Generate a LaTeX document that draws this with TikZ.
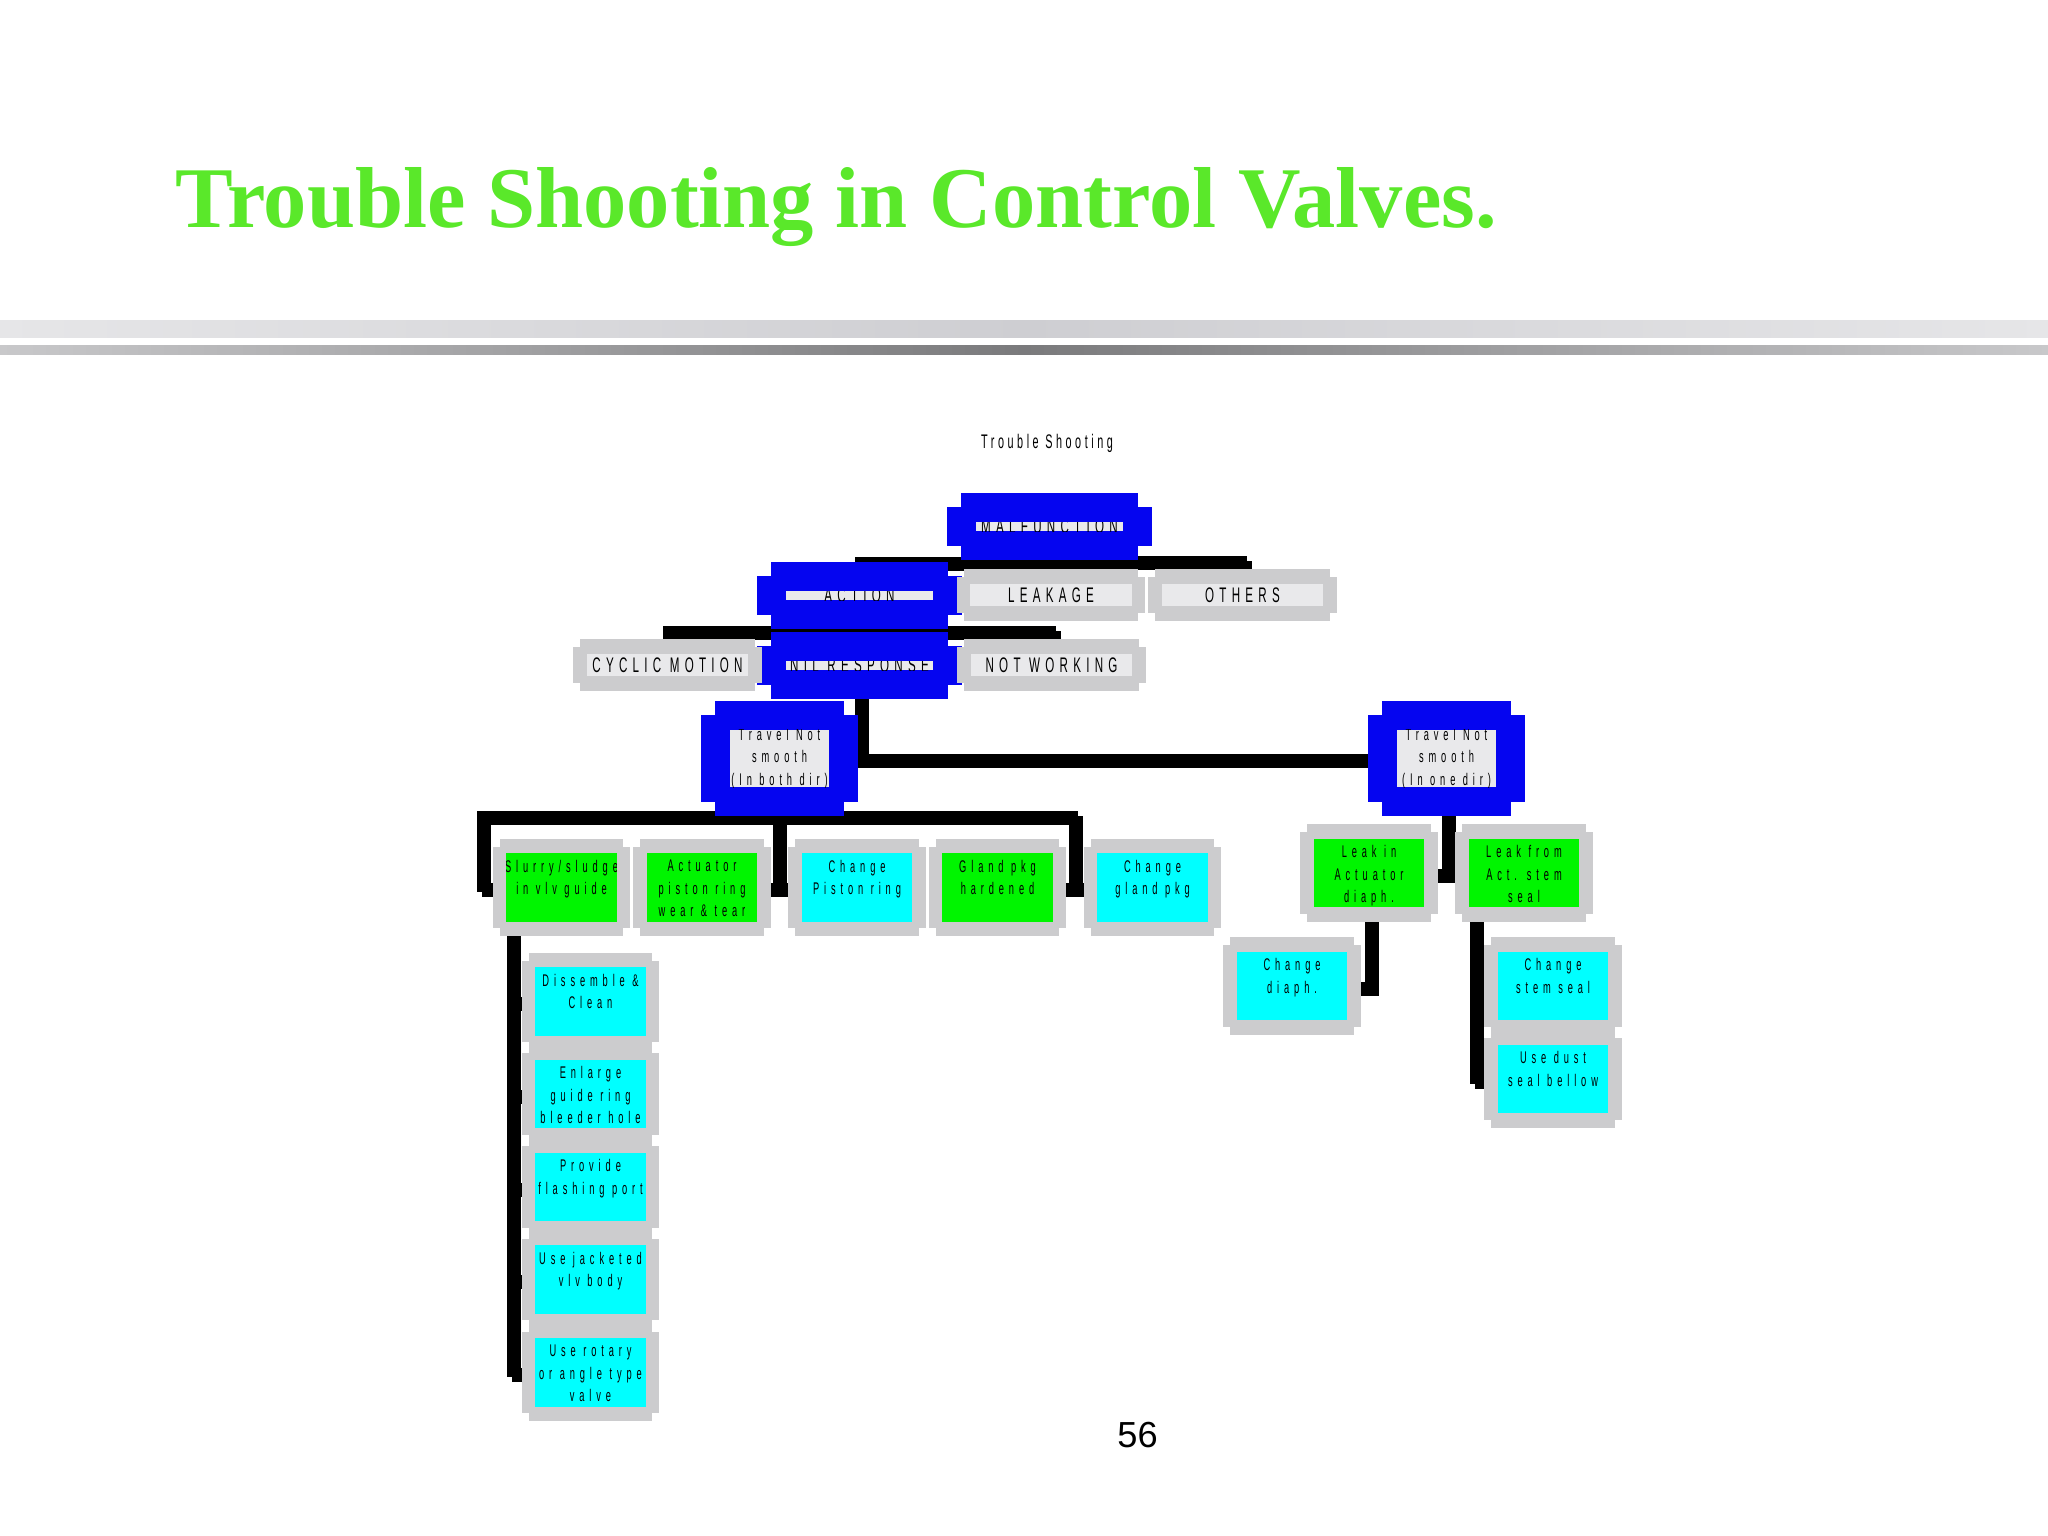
\documentclass[tikz,border=0pt]{standalone}
\usepackage{fontspec}
\usepackage{tikz}
\usetikzlibrary{calc}
\newfontfamily\titlefont{Liberation Serif}
\newfontfamily\chartfont[FakeStretch=0.55,LetterSpace=25]{Liberation Sans}
\newfontfamily\pagefont{Liberation Sans}
\definecolor{ttl}{RGB}{90,232,42}
\definecolor{blu}{RGB}{5,5,240}
\definecolor{frm}{RGB}{204,204,206}
\definecolor{lite}{RGB}{233,233,235}
\definecolor{lime}{RGB}{0,245,0}
\definecolor{aqua}{RGB}{0,255,255}
\definecolor{barA}{RGB}{230,230,232}
\definecolor{barB}{RGB}{206,206,210}
\definecolor{barC}{RGB}{200,200,202}
\definecolor{barD}{RGB}{122,122,124}
\pgfdeclarelayer{wires}
\pgfdeclarelayer{frames}
\pgfsetlayers{wires,frames,main}

\begin{document}
\begin{tikzpicture}[x=0.01cm,y=-0.01cm]
	\tikzstyle{tag}=[font=\chartfont\fontsize{6}{7}\selectfont, inner sep=0, minimum width=0, minimum height=0]
	\tikzstyle{note}=[font=\chartfont\addfontfeature{LetterSpace=29}\fontsize{4.8}{6.4}\selectfont, align=center, inner sep=0, minimum width=0, minimum height=0]
	\tikzstyle{strip}=[fill=lite, inner sep=0, minimum width=1.47cm, minimum height=0.09cm,
		path picture={\node[tag] at (path picture bounding box.center) {#1};}]
	\tikzstyle{slab}=[fill=lite, inner sep=0, minimum width=1.61cm, minimum height=0.22cm,
		path picture={\node[tag] at (path picture bounding box.center) {#1};}]
	\tikzstyle{trav}=[fill=lite, inner sep=0, minimum width=0.99cm, minimum height=0.57cm,
		path picture={\node[note] at (path picture bounding box.center) {#1};}]
	\tikzstyle{cell}=[inner sep=0, minimum width=1.1cm, minimum height=0.68cm,
		path picture={\node[note,anchor=north] at ([yshift=-0.06cm]path picture bounding box.north) {#1};}]
	\tikzstyle{wire}=[line width=0.09cm, preaction={draw, line width=0.09cm, transform canvas={shift={(0.05cm,-0.05cm)}}}]
	\tikzstyle{tree}=[to path={|- ($(\tikztostart)!.5!(\tikztotarget)$) -| (\tikztotarget)}]

	\useasboundingbox (0,0) rectangle (2048,1536);
	% slide head
	\node[anchor=base west, inner sep=0, text=ttl, font=\titlefont\bfseries\fontsize{24.6}{29}\selectfont] (title) at (175,227) {Trouble Shooting in Control Valves.};
	\shade[left color=barA, right color=barA, middle color=barB] (0,320) rectangle (2048,337);
	\shade[left color=barC, right color=barC, middle color=barD] (0,345) rectangle (2048,354);
	\node[anchor=base, font=\pagefont\fontsize{10.3}{12}\selectfont] (page) at (1137.5,1447) {56};

	% chart
	\node[tag, font=\chartfont\addfontfeature{LetterSpace=18}\fontsize{5.6}{7}\selectfont] (head) at (1047,443) {Trouble Shooting};
	\node[strip=MALFUNCTION] (malf) at (1049.5,526.5) {};
	\node[strip=ACTION] (act) at (859.5,595.5) {};
	\node[slab=LEAKAGE] (leak) at (1051,595) {};
	\node[slab=OTHERS] (oth) at (1242.5,595) {};
	\node[strip=NIL RESPONSE] (resp) at (859.5,665.5) {};
	\node[slab=CYCLIC MOTION] (cyc) at (667.5,665) {};
	\node[slab=NOT WORKING] (notw) at (1051.5,665) {};
	\node[trav={Travel Not\\smooth\\(In both dir)}] (trvl) at (779.5,758.5) {};
	\node[trav={Travel Not\\smooth\\(In one dir)}] (trvr) at (1446.5,758.5) {};

	\node[cell={Slurry/sludge\\in vlv guide}, fill=lime] (slur) at (561.5,887.5) {};
	\node[cell={Actuator\\piston ring\\wear \& tear}, fill=lime] (actr) at (702,887.5) {};
	\node[cell={Change\\Piston ring}, fill=aqua] (chpr) at (857,887.5) {};
	\node[cell={Gland pkg\\hardened}, fill=lime] (glnd) at (997.5,887.5) {};
	\node[cell={Change\\gland pkg}, fill=aqua] (chgl) at (1152.5,887.5) {};
	\node[cell={Leak in\\Actuator\\diaph.}, fill=lime] (lkin) at (1369,873) {};
	\node[cell={Leak from\\Act. stem\\seal}, fill=lime] (lkfr) at (1524,873) {};
	\node[cell={Change\\diaph.}, fill=aqua] (chdi) at (1292,986) {};
	\node[cell={Change\\stem seal}, fill=aqua] (chst) at (1553,986) {};
	\node[cell={Use dust\\seal bellow}, fill=aqua] (dust) at (1553,1079) {};

	\node[cell={Dissemble \&\\Clean}, fill=aqua] (dis) at (590.5,1001.5) {};
	\node[cell={Enlarge\\guide ring\\bleeder hole}, fill=aqua] (enl) at (590.5,1094) {};
	\node[cell={Provide\\flashing port}, fill=aqua] (prov) at (590.5,1187) {};
	\node[cell={Use jacketed\\vlv body}, fill=aqua] (jack) at (590.5,1279.5) {};
	\node[cell={Use rotary\\or angle type\\valve}, fill=aqua] (rot) at (590.5,1372.5) {};

	% stepped frames
	\begin{pgfonlayer}{frames}
		\foreach \n in {malf,act,resp,trvl,trvr} {
			\fill[blu] ($(\n.north west)+(-28,-14)$) rectangle ($(\n.south east)+(28,14)$);
			\fill[blu] ($(\n.north west)+(-14,-28)$) rectangle ($(\n.south east)+(14,28)$);
		}
		\foreach \n in {leak,oth,cyc,notw,slur,actr,chpr,glnd,chgl,lkin,lkfr,chdi,chst,dust,dis,enl,prov,jack,rot} {
			\fill[frm] ($(\n.north west)+(-13,-6)$) rectangle ($(\n.south east)+(13,6)$);
			\fill[frm] ($(\n.north west)+(-6,-14)$) rectangle ($(\n.south east)+(6,14)$);
		}
	\end{pgfonlayer}

	% connectors
	\begin{pgfonlayer}{wires}
		\foreach \n in {act,leak,oth} \draw[wire] (malf.center) to[tree] (\n.center);
		\foreach \n in {cyc,resp,notw} \draw[wire] (act.center) to[tree] (\n.center);
		\foreach \n in {trvl,trvr} \draw[wire] (resp.center) |- (\n.center);
		\draw[wire] (trvl.center) -- ++(0,57) -| ($(slur.west)+(-24,0)$) -- (slur.center);
		\draw[wire] (trvl.center) -- ++(0,57) -| ($(actr.east)+(20,0)$) -- (actr.center);
		\draw[wire] (trvl.center) -- ++(0,57) -| ($(glnd.east)+(20,0)$) -- (glnd.center);
		\draw[wire] (actr.center) -- (chpr.center);
		\draw[wire] (glnd.center) -- (chgl.center);
		\foreach \n in {dis,enl,prov,jack,rot} \draw[wire] ($(slur.west)+(6,0)$) |- (\n.center);
		\foreach \n in {lkin,lkfr} \draw[wire] (trvr.center) |- (\n.center);
		\draw[wire] (lkin.center) |- (chdi.center);
		\foreach \n in {chst,dust} \draw[wire] ($(lkfr.west)+(6,0)$) |- (\n.center);
	\end{pgfonlayer}
\end{tikzpicture}
\end{document}
